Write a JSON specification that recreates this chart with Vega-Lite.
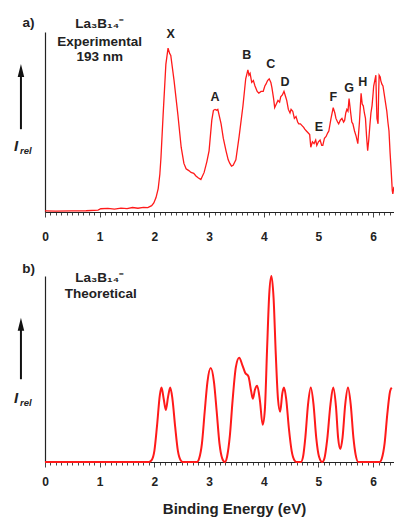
{
  "$schema": "https://vega.github.io/schema/vega-lite/v6.json",
  "autosize": {"type": "pad"},
  "padding": {"left": 13, "top": 15, "right": 0, "bottom": 5},
  "background": "white",
  "bounds": "flush",
  "spacing": 64,
  "config": {
    "view": {"stroke": null},
    "font": "Liberation Sans",
    "text": {"font": "Liberation Sans", "fontWeight": "bold", "color": "#222"},
    "axisY": {"domain": true, "domainColor": "#222", "domainWidth": 1.2, "ticks": false, "labels": false, "grid": false, "title": null},
    "axisX": {
      "domainColor": "#222", "domainWidth": 1.2, "grid": false,
      "ticks": true, "tickColor": "#333", "tickWidth": 0.9, "labelOverlap": false,
      "labelFont": "Liberation Sans", "labelFontWeight": "bold", "labelFontSize": 12, "labelColor": "#222",
      "titleFont": "Liberation Sans", "titleFontWeight": "bold", "titleFontSize": 15, "titleColor": "#222"
    }
  },
  "datasets": {
    "exp": [
      {"e": 0.0, "i": 0.006}, {"e": 0.2, "i": 0.005}, {"e": 0.48, "i": 0.006}, {"e": 0.75, "i": 0.007}, {"e": 0.97, "i": 0.01},
      {"e": 1.02, "i": 0.018}, {"e": 1.15, "i": 0.02}, {"e": 1.27, "i": 0.016}, {"e": 1.39, "i": 0.021}, {"e": 1.5, "i": 0.019},
      {"e": 1.6, "i": 0.025}, {"e": 1.7, "i": 0.021}, {"e": 1.8, "i": 0.026}, {"e": 1.88, "i": 0.024}, {"e": 1.95, "i": 0.035},
      {"e": 1.99, "i": 0.05}, {"e": 2.03, "i": 0.08}, {"e": 2.07, "i": 0.13}, {"e": 2.1, "i": 0.21}, {"e": 2.12, "i": 0.3},
      {"e": 2.16, "i": 0.54}, {"e": 2.21, "i": 0.82}, {"e": 2.25, "i": 0.91}, {"e": 2.28, "i": 0.88}, {"e": 2.3, "i": 0.87},
      {"e": 2.36, "i": 0.73}, {"e": 2.43, "i": 0.54}, {"e": 2.49, "i": 0.36}, {"e": 2.54, "i": 0.27}, {"e": 2.58, "i": 0.24},
      {"e": 2.63, "i": 0.23}, {"e": 2.67, "i": 0.22}, {"e": 2.72, "i": 0.215}, {"e": 2.76, "i": 0.2}, {"e": 2.8, "i": 0.19},
      {"e": 2.85, "i": 0.18}, {"e": 2.91, "i": 0.22}, {"e": 2.96, "i": 0.28}, {"e": 3.0, "i": 0.34}, {"e": 3.05, "i": 0.51},
      {"e": 3.08, "i": 0.565}, {"e": 3.11, "i": 0.57}, {"e": 3.14, "i": 0.565}, {"e": 3.16, "i": 0.57}, {"e": 3.19, "i": 0.53},
      {"e": 3.22, "i": 0.49}, {"e": 3.26, "i": 0.41}, {"e": 3.31, "i": 0.34}, {"e": 3.35, "i": 0.29}, {"e": 3.38, "i": 0.27},
      {"e": 3.41, "i": 0.255}, {"e": 3.44, "i": 0.26}, {"e": 3.49, "i": 0.29}, {"e": 3.55, "i": 0.42}, {"e": 3.62, "i": 0.59},
      {"e": 3.67, "i": 0.74}, {"e": 3.71, "i": 0.79}, {"e": 3.73, "i": 0.76}, {"e": 3.75, "i": 0.77}, {"e": 3.78, "i": 0.72},
      {"e": 3.81, "i": 0.73}, {"e": 3.84, "i": 0.7}, {"e": 3.88, "i": 0.67}, {"e": 3.91, "i": 0.66}, {"e": 3.95, "i": 0.67},
      {"e": 3.99, "i": 0.67}, {"e": 4.02, "i": 0.7}, {"e": 4.04, "i": 0.71}, {"e": 4.07, "i": 0.73}, {"e": 4.1, "i": 0.74},
      {"e": 4.13, "i": 0.72}, {"e": 4.15, "i": 0.69}, {"e": 4.18, "i": 0.63}, {"e": 4.2, "i": 0.58}, {"e": 4.23, "i": 0.6},
      {"e": 4.26, "i": 0.62}, {"e": 4.29, "i": 0.61}, {"e": 4.31, "i": 0.64}, {"e": 4.34, "i": 0.65}, {"e": 4.37, "i": 0.67},
      {"e": 4.4, "i": 0.64}, {"e": 4.42, "i": 0.62}, {"e": 4.45, "i": 0.57}, {"e": 4.48, "i": 0.55}, {"e": 4.5, "i": 0.57},
      {"e": 4.53, "i": 0.56}, {"e": 4.56, "i": 0.52}, {"e": 4.59, "i": 0.53}, {"e": 4.62, "i": 0.5}, {"e": 4.64, "i": 0.49},
      {"e": 4.67, "i": 0.49}, {"e": 4.7, "i": 0.48}, {"e": 4.73, "i": 0.47}, {"e": 4.75, "i": 0.46}, {"e": 4.78, "i": 0.45},
      {"e": 4.81, "i": 0.44}, {"e": 4.84, "i": 0.43}, {"e": 4.86, "i": 0.36}, {"e": 4.89, "i": 0.39}, {"e": 4.92, "i": 0.38},
      {"e": 4.95, "i": 0.4}, {"e": 4.97, "i": 0.37}, {"e": 5.0, "i": 0.39}, {"e": 5.03, "i": 0.4}, {"e": 5.06, "i": 0.37},
      {"e": 5.08, "i": 0.37}, {"e": 5.11, "i": 0.41}, {"e": 5.14, "i": 0.42}, {"e": 5.17, "i": 0.44}, {"e": 5.19, "i": 0.45},
      {"e": 5.23, "i": 0.52}, {"e": 5.27, "i": 0.58}, {"e": 5.3, "i": 0.55}, {"e": 5.32, "i": 0.52}, {"e": 5.35, "i": 0.5},
      {"e": 5.37, "i": 0.49}, {"e": 5.4, "i": 0.51}, {"e": 5.43, "i": 0.52}, {"e": 5.46, "i": 0.5}, {"e": 5.48, "i": 0.51},
      {"e": 5.5, "i": 0.55}, {"e": 5.52, "i": 0.57}, {"e": 5.54, "i": 0.56}, {"e": 5.56, "i": 0.63}, {"e": 5.59, "i": 0.55},
      {"e": 5.61, "i": 0.5}, {"e": 5.63, "i": 0.49}, {"e": 5.66, "i": 0.45}, {"e": 5.69, "i": 0.42}, {"e": 5.72, "i": 0.38},
      {"e": 5.75, "i": 0.5}, {"e": 5.78, "i": 0.66}, {"e": 5.8, "i": 0.6}, {"e": 5.82, "i": 0.59}, {"e": 5.84, "i": 0.55},
      {"e": 5.86, "i": 0.52}, {"e": 5.88, "i": 0.42}, {"e": 5.9, "i": 0.34}, {"e": 5.92, "i": 0.4}, {"e": 5.94, "i": 0.48},
      {"e": 5.96, "i": 0.55}, {"e": 5.98, "i": 0.59}, {"e": 6.0, "i": 0.66}, {"e": 6.01, "i": 0.7}, {"e": 6.03, "i": 0.73},
      {"e": 6.05, "i": 0.76}, {"e": 6.06, "i": 0.62}, {"e": 6.07, "i": 0.52}, {"e": 6.09, "i": 0.49}, {"e": 6.1, "i": 0.65},
      {"e": 6.11, "i": 0.76}, {"e": 6.13, "i": 0.75}, {"e": 6.14, "i": 0.73}, {"e": 6.16, "i": 0.71}, {"e": 6.18, "i": 0.7},
      {"e": 6.2, "i": 0.66}, {"e": 6.22, "i": 0.62}, {"e": 6.24, "i": 0.58}, {"e": 6.25, "i": 0.56}, {"e": 6.27, "i": 0.5},
      {"e": 6.29, "i": 0.45}, {"e": 6.31, "i": 0.33}, {"e": 6.33, "i": 0.23}, {"e": 6.35, "i": 0.12}, {"e": 6.36, "i": 0.1},
      {"e": 6.38, "i": 0.14}
    ],
    "theo": [
      {"e": 0.0, "i": 0}, {"e": 1.9, "i": 0}, {"e": 1.95, "i": 0.01}, {"e": 2.0, "i": 0.06}, {"e": 2.05, "i": 0.2},
      {"e": 2.1, "i": 0.36}, {"e": 2.13, "i": 0.4}, {"e": 2.17, "i": 0.34}, {"e": 2.21, "i": 0.28}, {"e": 2.25, "i": 0.35},
      {"e": 2.29, "i": 0.4}, {"e": 2.33, "i": 0.34}, {"e": 2.38, "i": 0.19}, {"e": 2.43, "i": 0.06}, {"e": 2.48, "i": 0.01},
      {"e": 2.52, "i": 0}, {"e": 2.78, "i": 0}, {"e": 2.82, "i": 0.02}, {"e": 2.87, "i": 0.1}, {"e": 2.92, "i": 0.27},
      {"e": 2.97, "i": 0.43}, {"e": 3.03, "i": 0.505}, {"e": 3.09, "i": 0.43}, {"e": 3.14, "i": 0.27}, {"e": 3.19, "i": 0.1},
      {"e": 3.24, "i": 0.02}, {"e": 3.29, "i": 0}, {"e": 3.33, "i": 0.03}, {"e": 3.38, "i": 0.14}, {"e": 3.43, "i": 0.33},
      {"e": 3.49, "i": 0.51}, {"e": 3.55, "i": 0.56}, {"e": 3.61, "i": 0.52}, {"e": 3.66, "i": 0.48}, {"e": 3.72, "i": 0.46},
      {"e": 3.77, "i": 0.38}, {"e": 3.8, "i": 0.34}, {"e": 3.84, "i": 0.39}, {"e": 3.88, "i": 0.41}, {"e": 3.93, "i": 0.33},
      {"e": 3.98, "i": 0.2}, {"e": 4.02, "i": 0.28}, {"e": 4.06, "i": 0.6}, {"e": 4.1, "i": 0.9}, {"e": 4.14, "i": 1.0},
      {"e": 4.18, "i": 0.88}, {"e": 4.22, "i": 0.58}, {"e": 4.26, "i": 0.34}, {"e": 4.3, "i": 0.27}, {"e": 4.34, "i": 0.37},
      {"e": 4.37, "i": 0.4}, {"e": 4.41, "i": 0.34}, {"e": 4.46, "i": 0.18}, {"e": 4.51, "i": 0.06}, {"e": 4.56, "i": 0.01},
      {"e": 4.6, "i": 0}, {"e": 4.68, "i": 0}, {"e": 4.72, "i": 0.03}, {"e": 4.76, "i": 0.13}, {"e": 4.81, "i": 0.31},
      {"e": 4.86, "i": 0.4}, {"e": 4.91, "i": 0.31}, {"e": 4.96, "i": 0.13}, {"e": 5.01, "i": 0.03}, {"e": 5.07, "i": 0},
      {"e": 5.11, "i": 0.02}, {"e": 5.16, "i": 0.12}, {"e": 5.22, "i": 0.31}, {"e": 5.27, "i": 0.4}, {"e": 5.32, "i": 0.3},
      {"e": 5.36, "i": 0.13}, {"e": 5.4, "i": 0.07}, {"e": 5.44, "i": 0.13}, {"e": 5.49, "i": 0.31}, {"e": 5.54, "i": 0.4},
      {"e": 5.59, "i": 0.31}, {"e": 5.64, "i": 0.13}, {"e": 5.68, "i": 0.04}, {"e": 5.73, "i": 0}, {"e": 6.12, "i": 0},
      {"e": 6.16, "i": 0.02}, {"e": 6.21, "i": 0.1}, {"e": 6.26, "i": 0.26}, {"e": 6.31, "i": 0.38}, {"e": 6.34, "i": 0.4}
    ],
    "peaks": [
      {"label": "X", "e": 2.3, "v": 0.99}, {"label": "A", "e": 3.11, "v": 0.64}, {"label": "B", "e": 3.69, "v": 0.87},
      {"label": "C", "e": 4.13, "v": 0.82}, {"label": "D", "e": 4.39, "v": 0.72}, {"label": "E", "e": 5.01, "v": 0.47},
      {"label": "F", "e": 5.27, "v": 0.64}, {"label": "G", "e": 5.56, "v": 0.69}, {"label": "H", "e": 5.81, "v": 0.72}
    ],
    "headA": [
      {"label": "a)", "e": -0.3, "v": 1.05}, {"label": "La₃B₁₄⁻", "e": 1.0, "v": 1.045},
      {"label": "Experimental", "e": 1.0, "v": 0.945}, {"label": "193 nm", "e": 1.0, "v": 0.86}
    ],
    "headB": [
      {"label": "b)", "e": -0.3, "v": 1.04}, {"label": "La₃B₁₄⁻", "e": 1.0, "v": 0.99},
      {"label": "Theoretical", "e": 1.02, "v": 0.905}
    ],
    "arrowA": [{"e": -0.44, "i": 0.786, "bot": 0.46, "lab": 0.367}],
    "arrowB": [{"e": -0.44, "i": 0.74, "bot": 0.445, "lab": 0.344}]
  },
  "vconcat": [
    {
      "width": 350,
      "height": 180,
      "encoding": {
        "x": {"field": "e", "type": "quantitative", "scale": {"domain": [0, 6.4], "nice": false},
          "axis": {"title": null, "values": [0,0.1,0.2,0.3,0.4,0.5,0.6,0.7,0.8,0.9,1,1.1,1.2,1.3,1.4,1.5,1.6,1.7,1.8,1.9,2,2.1,2.2,2.3,2.4,2.5,2.6,2.7,2.8,2.9,3,3.1,3.2,3.3,3.4,3.5,3.6,3.7,3.8,3.9,4,4.1,4.2,4.3,4.4,4.5,4.6,4.7,4.8,4.9,5,5.1,5.2,5.3,5.4,5.5,5.6,5.7,5.8,5.9,6,6.1,6.2,6.3,6.4],
            "labelExpr": "datum.value % 1 === 0 ? format(datum.value, 'd') : ''",
            "tickSize": {"condition": {"test": "datum.value % 1 === 0", "value": 5}, "value": 3},
            "labelPadding": 14, "labelOverlap": false, "labelFlush": false, "labelBound": false}}
      },
      "layer": [
        {
          "data": {"name": "exp"},
          "mark": {"type": "line", "color": "#ff1a1a", "strokeWidth": 1.3, "interpolate": "linear"},
          "encoding": {
            "y": {"field": "i", "type": "quantitative", "scale": {"domain": [0, 1], "nice": false}}
          }
        },
        {
          "data": {"name": "peaks"},
          "mark": {"type": "text", "fontSize": 12.5, "align": "center", "baseline": "middle"},
          "encoding": {
            "y": {"field": "v", "type": "quantitative"},
            "text": {"field": "label"}
          }
        },
        {
          "data": {"name": "headA"},
          "mark": {"type": "text", "fontSize": 13.5, "align": "center", "baseline": "middle"},
          "encoding": {
            "y": {"field": "v", "type": "quantitative"},
            "text": {"field": "label"}
          }
        },
        {
          "data": {"name": "arrowA"},
          "mark": {"type": "rule", "color": "#111", "strokeWidth": 2},
          "encoding": {
            "y": {"field": "i", "type": "quantitative"},
            "y2": {"field": "bot"}
          }
        },
        {
          "data": {"name": "arrowA"},
          "mark": {"type": "point", "shape": "M0,-1L0.5,1L-0.5,1Z", "filled": true, "color": "#111", "size": 169, "opacity": 1},
          "encoding": {
            "y": {"field": "i", "type": "quantitative"}
          }
        },
        {
          "data": {"name": "arrowA"},
          "mark": {"type": "text", "text": "I", "fontSize": 15, "fontStyle": "italic", "align": "left", "baseline": "middle", "dx": -7},
          "encoding": {
            "y": {"field": "lab", "type": "quantitative"}
          }
        },
        {
          "data": {"name": "arrowA"},
          "mark": {"type": "text", "text": "rel", "fontSize": 9.5, "fontStyle": "italic", "align": "left", "baseline": "middle", "dx": -1, "dy": 5},
          "encoding": {
            "y": {"field": "lab", "type": "quantitative"}
          }
        }
      ]
    },
    {
      "width": 350,
      "height": 186,
      "encoding": {
        "x": {"field": "e", "type": "quantitative", "scale": {"domain": [0, 6.4], "nice": false},
          "axis": {"title": "Binding Energy (eV)", "values": [0,0.1,0.2,0.3,0.4,0.5,0.6,0.7,0.8,0.9,1,1.1,1.2,1.3,1.4,1.5,1.6,1.7,1.8,1.9,2,2.1,2.2,2.3,2.4,2.5,2.6,2.7,2.8,2.9,3,3.1,3.2,3.3,3.4,3.5,3.6,3.7,3.8,3.9,4,4.1,4.2,4.3,4.4,4.5,4.6,4.7,4.8,4.9,5,5.1,5.2,5.3,5.4,5.5,5.6,5.7,5.8,5.9,6,6.1,6.2,6.3,6.4],
            "labelExpr": "datum.value % 1 === 0 ? format(datum.value, 'd') : ''",
            "tickSize": {"condition": {"test": "datum.value % 1 === 0", "value": 5}, "value": 3},
            "labelPadding": 9, "labelOverlap": false, "labelFlush": false, "labelBound": false,
            "titlePadding": 14, "titleX": 189, "titleAnchor": "start", "titleAlign": "center"}}
      },
      "layer": [
        {
          "data": {"name": "theo"},
          "mark": {"type": "line", "color": "#ff1a1a", "strokeWidth": 2, "interpolate": "monotone"},
          "encoding": {
            "y": {"field": "i", "type": "quantitative", "scale": {"domain": [0, 1], "nice": false}}
          }
        },
        {
          "data": {"name": "headB"},
          "mark": {"type": "text", "fontSize": 13.5, "align": "center", "baseline": "middle"},
          "encoding": {
            "y": {"field": "v", "type": "quantitative"},
            "text": {"field": "label"}
          }
        },
        {
          "data": {"name": "arrowB"},
          "mark": {"type": "rule", "color": "#111", "strokeWidth": 2},
          "encoding": {
            "y": {"field": "i", "type": "quantitative"},
            "y2": {"field": "bot"}
          }
        },
        {
          "data": {"name": "arrowB"},
          "mark": {"type": "point", "shape": "M0,-1L0.5,1L-0.5,1Z", "filled": true, "color": "#111", "size": 169, "opacity": 1},
          "encoding": {
            "y": {"field": "i", "type": "quantitative"}
          }
        },
        {
          "data": {"name": "arrowB"},
          "mark": {"type": "text", "text": "I", "fontSize": 15, "fontStyle": "italic", "align": "left", "baseline": "middle", "dx": -7},
          "encoding": {
            "y": {"field": "lab", "type": "quantitative"}
          }
        },
        {
          "data": {"name": "arrowB"},
          "mark": {"type": "text", "text": "rel", "fontSize": 9.5, "fontStyle": "italic", "align": "left", "baseline": "middle", "dx": -1, "dy": 5},
          "encoding": {
            "y": {"field": "lab", "type": "quantitative"}
          }
        }
      ]
    }
  ]
}
